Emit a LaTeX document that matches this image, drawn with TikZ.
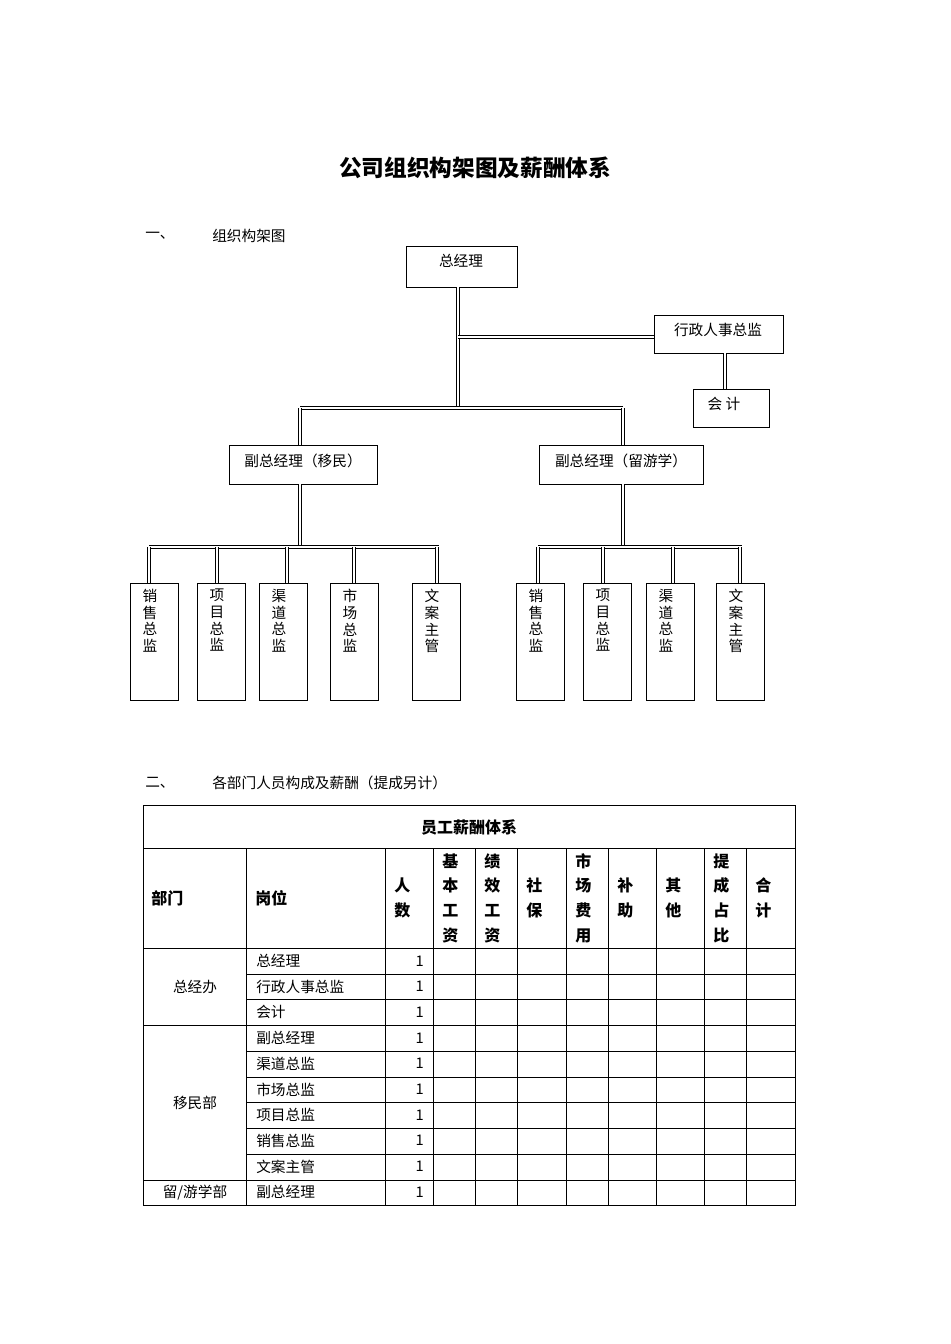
\documentclass[tikz,border=0pt]{standalone}
\usepackage{fontspec}
\setmainfont{Liberation Serif}
\newfontfamily\cjk{Noto Sans CJK SC}
\newfontfamily\cjkb{Noto Sans CJK SC}[BoldFont=* Bold]
\begin{document}
\begin{tikzpicture}[x=0.75pt,y=-0.75pt,
  box/.style={draw,line width=0.6pt,inner sep=0pt},
  conn/.style={draw,double,line width=0.45pt,double distance=1.6pt},
  txt/.style={font=\cjk\fontsize{11}{13}\selectfont,inner sep=0pt},
  vt/.style={font=\cjk\fontsize{11}{12.5}\selectfont,align=center,inner sep=0pt,anchor=north},
  hd/.style={font=\cjk\bfseries\fontsize{12}{18.5}\selectfont,align=center,inner sep=0pt,anchor=west},
  grid/.style={line width=0.5pt}]
\fill[white] (0,0) rectangle (950,1344);
\node[font=\cjk\bfseries\fontsize{17}{20}\selectfont] (title) at (475,168) {公司组织构架图及薪酬体系};
\node[txt,anchor=west] (s1a) at (145,236) {一、};
\node[txt,anchor=west] (s1b) at (212,236) {组织构架图};
% boxes
\draw[box] (406,246) rectangle (517,287);
\node[txt] (gm) at (461,261) {总经理};
\coordinate (gmb) at (458,287);
\draw[box] (654,315) rectangle (783,353);
\node[txt] (xz) at (718,330) {行政人事总监};
\draw[box] (693,389) rectangle (769,427);
\node[txt] (kj) at (724,404) {会 计};
\draw[box] (229,445) rectangle (377,484);
\node[txt] (fy) at (303,461) {副总经理（移民）};
\draw[box] (539,445) rectangle (703,484);
\node[txt] (fl) at (621,461) {副总经理（留游学）};
% connectors
\coordinate (a1) at (458,337); \coordinate (a2) at (654,337);
\coordinate (a3) at (458,408);
\coordinate (l1) at (300,408); \coordinate (r1) at (623,408);
\draw[conn] (gmb) -- (a3);
\draw[conn] (a1) -- (a2);
\draw[conn] (725,353) -- (725,389);
\draw[conn] (l1) -- (r1);
\draw[conn] (l1) -- (300,445);
\draw[conn] (r1) -- (623,445);
\draw[conn] (300,484) -- (300,547);
\draw[conn] (623,484) -- (623,547);
\draw[conn] (149,547) -- (439,547);
\draw[conn] (538,547) -- (742,547);
\foreach \cx/\l/\r/\t [count=\i] in {149/130/178/销\\售\\总\\监, 217/197/245/项\\目\\总\\监, 287/259/307/渠\\道\\总\\监, 354/330/378/市\\场\\总\\监, 437/412/460/文\\案\\主\\管,
  538/516/564/销\\售\\总\\监, 603/583/631/项\\目\\总\\监, 673/646/694/渠\\道\\总\\监, 740/716/764/文\\案\\主\\管}{
  \draw[conn] (\cx,547) -- (\cx,583);
  \draw[box] (\l,583) rectangle (\r,700);
  \node[vt] (v\i) at ({(\l+\r)/2-4},589) {\t};
}
\node[txt,anchor=west] (s2a) at (145,783) {二、};
\node[txt,anchor=west] (s2b) at (212,783) {各部门人员构成及薪酬（提成另计）};
% table
\draw[grid] (143,805) rectangle (795,1205);
\draw[grid] (143,848) -- (795,848);
\foreach \y in {948,974,999,1025,1051,1077,1102,1128,1154,1180}{\draw[grid] (246,\y) -- (795,\y);}
\foreach \y in {948,1025,1180}{\draw[grid] (143,\y) -- (246,\y);}
\foreach \x in {246,385,433,475,517,566,608,656,704,746}{\draw[grid] (\x,848) -- (\x,1205);}
\node[font=\cjk\bfseries\fontsize{12}{14}\selectfont] (th) at (469,827) {员工薪酬体系};
\node[hd] (h1) at (151,898) {部门};
\node[hd] (h2) at (255,898) {岗位};
\node[hd] (h3) at (394,898) {人\\数};
\node[hd] (h4) at (442,898) {基\\本\\工\\资};
\node[hd] (h5) at (484,898) {绩\\效\\工\\资};
\node[hd] (h6) at (526,898) {社\\保};
\node[hd] (h7) at (575,898) {市\\场\\费\\用};
\node[hd] (h8) at (617,898) {补\\助};
\node[hd] (h9) at (665,898) {其\\他};
\node[hd] (h10) at (713,898) {提\\成\\占\\比};
\node[hd] (h11) at (755,898) {合\\计};
\foreach \t [count=\i] in {总经理,行政人事总监,会计,副总经理,渠道总监,市场总监,项目总监,销售总监,文案主管,副总经理}{
  \node[txt,anchor=west] (p\i) at (256,{948+25.7*(\i-0.5)}) {\t};
  \node[txt,anchor=east] (n\i) at (424,{948+25.7*(\i-0.5)}) {1};
}
\node[txt] (d1) at (195,987) {总经办};
\node[txt] (d2) at (195,1103) {移民部};
\node[txt] (d3) at (195,1193) {留/游学部};
\end{tikzpicture}
\end{document}
